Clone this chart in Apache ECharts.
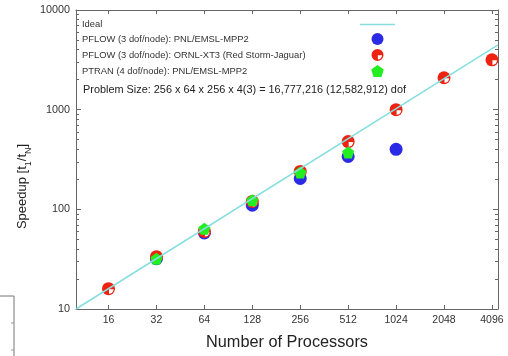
<!DOCTYPE html>
<html>
<head>
<meta charset="utf-8">
<script src="https://cdn.jsdelivr.net/npm/echarts@6/dist/echarts.min.js"></script>
<style>
  html, body { margin: 0; padding: 0; background: #fff; }
  #chart { width: 508px; height: 356px; }
</style>
</head>
<body>
<div id="chart"></div>
<script>
// processor counts (x) and measured speedups (y)
const procs = [16, 32, 64, 128, 256, 512, 1024, 2048, 4096]
const pflowMpp2 = [null, 32, 58, 110, 204, 339, 400, null, null]
const pflowOrnl = [16, 33.5, 60, 120, 240, 478, 1000, 2090, 3160]
const ptranMpp2 = [null, 32, 64, 123, 234, 372, null, null, null]
const idealX = [10, 4470]
const yMinorTicks = [20, 30, 40, 50, 60, 70, 80, 90, 200, 300, 400, 500, 600, 700, 800, 900,
  2000, 3000, 4000, 5000, 6000, 7000, 8000, 9000]

const names = {
  ideal: 'Ideal',
  mpp2: 'PFLOW (3 dof/node): PNL/EMSL-MPP2',
  ornl: 'PFLOW (3 dof/node): ORNL-XT3 (Red Storm-Jaguar)',
  ptran: 'PTRAN (4 dof/node): PNL/EMSL-MPP2'
}

const FONT = 'Liberation Sans'
const AXIS_COLOR = '#666'
const IDEAL_COLOR = '#86dede'

// red disc with white wedge (legend icon)
const ringPath = 'path://M0,10 A10,10 0 1,1 20,10 A10,10 0 1,1 0,10 Z M10.6,10.6 L10.6,17.6 A7,7 0 0,0 17.6,10.6 Z'
const wedgePath = 'path://M0,0 L0,10 A10,10 0 0,0 10,0 Z'
const pentagonPath = 'path://M10,0 L19.5,6.9 L15.9,18.1 L4.1,18.1 L0.5,6.9 Z'
const linePath = 'path://M0,0 L35,0 L35,1.5 L0,1.5 Z'

const pairs = (ys) => procs.map((x, i) => [x, ys[i]]).filter(p => p[1] != null)

const chart = echarts.init(document.getElementById('chart'))

const baseY = {
  type: 'log',
  logBase: 10,
  min: 10,
  max: 10000,
  splitLine: { show: false },
  axisLine: { show: true, lineStyle: { color: AXIS_COLOR } }
}

const option = {
  animation: false,
  backgroundColor: '#fff',
  title: {
    text: 'Problem Size: 256 x 64 x 256 x 4(3) = 16,777,216 (12,582,912) dof',
    left: 78,
    top: 79,
    textStyle: { fontFamily: FONT, fontSize: 10.9, fontWeight: 'normal', color: '#222' }
  },
  legend: {
    orient: 'vertical',
    left: 82,
    top: 20,
    padding: 0,
    align: 'right',
    itemWidth: 35,
    itemHeight: 12,
    itemGap: 4,
    selectedMode: false,
    formatter: (name) => '{t|' + name + '}',
    textStyle: {
      fontFamily: FONT,
      fontSize: 9.4,
      color: '#333',
      rich: { t: { width: 273, align: 'left', fontFamily: FONT, fontSize: 9.4, color: '#333' } }
    },
    data: [
      { name: names.ideal, icon: linePath, itemStyle: { color: IDEAL_COLOR } },
      { name: names.mpp2, icon: 'circle' },
      { name: names.ornl, icon: ringPath },
      { name: names.ptran, icon: pentagonPath }
    ]
  },
  grid: { left: 76, right: 10, top: 10, bottom: 47 },
  xAxis: [
    {
      type: 'log',
      logBase: 2,
      min: 10,
      max: 4470,
      splitNumber: 9,
      name: 'Number of Processors',
      nameLocation: 'middle',
      nameGap: 26,
      nameTextStyle: { fontFamily: FONT, fontSize: 16.3, color: '#222' },
      splitLine: { show: false },
      axisLine: { show: true, lineStyle: { color: AXIS_COLOR } },
      axisTick: { inside: true, length: 4, lineStyle: { color: AXIS_COLOR } },
      axisLabel: {
        showMinLabel: false,
        showMaxLabel: false,
        margin: 6,
        fontFamily: FONT,
        fontSize: 10.5,
        color: '#333',
        formatter: (v) => String(Math.round(v))
      }
    },
    {
      type: 'log',
      logBase: 2,
      min: 10,
      max: 4470,
      splitNumber: 9,
      position: 'top',
      splitLine: { show: false },
      axisLine: { show: true, lineStyle: { color: AXIS_COLOR } },
      axisTick: { inside: true, length: 4, lineStyle: { color: AXIS_COLOR } },
      axisLabel: { show: false }
    }
  ],
  yAxis: [
    Object.assign({}, baseY, {
      name: '{a|Speedup [t}{s|1}{a|/t}{s|N}{a|]}',
      nameLocation: 'middle',
      nameGap: 46,
      nameMoveOverlap: false,
      nameTextStyle: {
        padding: [0, 54, 0, 0],
        rich: {
          a: { fontFamily: FONT, fontSize: 13, color: '#222', lineHeight: 16 },
          s: { fontFamily: FONT, fontSize: 9, color: '#222', lineHeight: 16, verticalAlign: 'bottom', padding: [0, 0, -3, 0] }
        }
      },
      axisTick: { inside: true, length: 5, lineStyle: { color: AXIS_COLOR } },
      axisLabel: {
        margin: 6,
        fontFamily: FONT,
        fontSize: 10.8,
        color: '#333',
        formatter: (v) => String(Math.round(v))
      }
    }),
    Object.assign({}, baseY, {
      position: 'right',
      axisTick: { inside: true, length: 5, lineStyle: { color: AXIS_COLOR } },
      axisLabel: { show: false }
    }),
    Object.assign({}, baseY, {
      position: 'left',
      axisLine: { show: false },
      axisTick: { inside: true, length: 3, customValues: yMinorTicks, lineStyle: { color: AXIS_COLOR } },
      axisLabel: { show: false }
    }),
    Object.assign({}, baseY, {
      position: 'right',
      axisLine: { show: false },
      axisTick: { inside: true, length: 3, customValues: yMinorTicks, lineStyle: { color: AXIS_COLOR } },
      axisLabel: { show: false }
    })
  ],
  series: [
    {
      name: names.ideal,
      type: 'line',
      symbol: 'none',
      lineStyle: { color: IDEAL_COLOR, width: 1.5 },
      itemStyle: { color: IDEAL_COLOR },
      data: idealX.map(v => [v, v])
    },
    {
      name: names.mpp2,
      type: 'scatter',
      symbol: 'circle',
      symbolSize: 13,
      itemStyle: { color: '#2b2be6', opacity: 1 },
      data: pairs(pflowMpp2)
    },
    {
      name: names.ornl,
      type: 'scatter',
      symbol: 'circle',
      symbolSize: 13,
      itemStyle: { color: '#ee2211', opacity: 1 },
      data: pairs(pflowOrnl)
    },
    {
      name: 'ornl-wedge',
      type: 'scatter',
      symbol: wedgePath,
      symbolSize: 4.6,
      symbolOffset: [2.8, 2.8],
      itemStyle: { color: '#fff', opacity: 1 },
      data: pairs(pflowOrnl)
    },
    {
      name: names.ptran,
      type: 'scatter',
      symbol: pentagonPath,
      symbolSize: 12,
      itemStyle: { color: '#22ee22', opacity: 1 },
      data: pairs(ptranMpp2)
    }
  ],
  // corner of a neighbouring frame visible at the bottom-left of the scan
  graphic: [
    {
      type: 'polyline',
      silent: true,
      shape: { points: [[0, 296], [14, 296], [14, 356]] },
      style: { stroke: '#777', lineWidth: 1, fill: null }
    },
    {
      type: 'polyline',
      silent: true,
      shape: { points: [[11, 323], [14, 323]] },
      style: { stroke: '#999', lineWidth: 1, fill: null }
    },
    {
      type: 'polyline',
      silent: true,
      shape: { points: [[11, 350], [14, 350]] },
      style: { stroke: '#999', lineWidth: 1, fill: null }
    }
  ]
}

chart.setOption(option)
</script>
</body>
</html>
